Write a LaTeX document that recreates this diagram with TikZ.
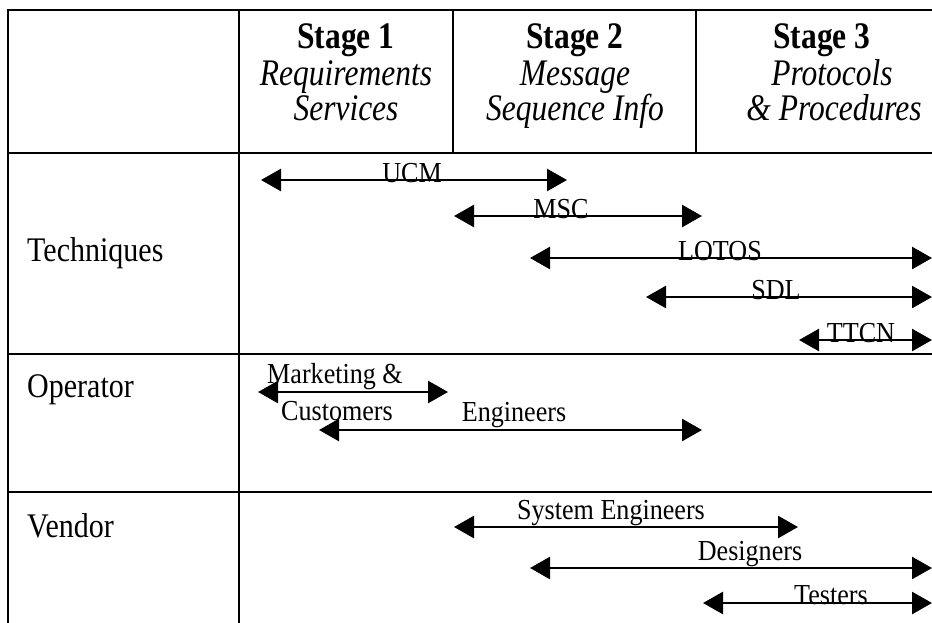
\documentclass[tikz,border=0pt]{standalone}
\usepackage{fontspec}
\setmainfont{Liberation Serif}[FakeStretch=0.9]
\newfontfamily\headfont{Liberation Serif}[FakeStretch=0.84]
\newfontfamily\rowfont{Liberation Serif}[FakeStretch=0.87]
\usetikzlibrary{arrows.meta}
\begin{document}
\begin{tikzpicture}[x=1pt,y=-1pt,
  rule/.style={line width=1.8pt, line cap=rect},
  span/.style={line width=2.6pt,
    {Triangle[length=20pt,width=22pt]}-{Triangle[length=20pt,width=22pt]}},
  stagehead/.style={font=\headfont\fontsize{37.5}{38}\selectfont\bfseries, anchor=base, inner sep=0pt},
  stagesub/.style={font=\headfont\fontsize{37.5}{38}\selectfont\itshape, anchor=base, inner sep=0pt},
  rowlabel/.style={font=\rowfont\fontsize{34.5}{36}\selectfont, anchor=base west, inner sep=0pt},
  spanlabel/.style={font=\fontsize{29}{30}\selectfont, anchor=base, inner sep=0pt}]
\useasboundingbox (0,0) rectangle (932,622);

% table rules
\draw[rule] (8,10) -- (932,10);
\draw[rule] (8,153) -- (932,153);
\draw[rule] (8,354) -- (932,354);
\draw[rule] (8,492) -- (932,492);
\draw[rule] (8,10) -- (8,622);
\draw[rule] (239,10) -- (239,622);
\draw[rule] (453,10) -- (453,153);
\draw[rule] (696,10) -- (696,153);

% column headings
\node[stagehead] (s1) at (346,48) {Stage 1};
\node[stagesub] (s1a) at (346,85) {Requirements};
\node[stagesub] (s1b) at (346,120) {Services};
\node[stagehead] (s2) at (575,48) {Stage 2};
\node[stagesub] (s2a) at (575,85) {Message};
\node[stagesub] (s2b) at (575,120) {Sequence Info};
\node[stagehead] (s3) at (822,48) {Stage 3};
\node[stagesub] (s3a) at (832,85) {Protocols};
\node[stagesub] (s3b) at (834,120) {\& Procedures};

% row headings
\node[rowlabel] (tech) at (27,261) {Techniques};
\node[rowlabel] (oper) at (27,397) {Operator};
\node[rowlabel] (vend) at (27,537) {Vendor};

% techniques
\coordinate (ucmL) at (261,180); \coordinate (ucmR) at (567,180);
\draw[span] (ucmL) -- (ucmR);
\node[spanlabel] (ucm) at (412,182) {UCM};

\coordinate (mscL) at (454,216); \coordinate (mscR) at (702,216);
\draw[span] (mscL) -- (mscR);
\node[spanlabel] (msc) at (561,218) {MSC};

\coordinate (lotL) at (530,258); \coordinate (lotR) at (932,258);
\draw[span] (lotL) -- (lotR);
\node[spanlabel] (lot) at (720,260) {LOTOS};

\coordinate (sdlL) at (646,297); \coordinate (sdlR) at (932,297);
\draw[span] (sdlL) -- (sdlR);
\node[spanlabel] (sdl) at (776,299) {SDL};

\coordinate (ttcL) at (799,340); \coordinate (ttcR) at (932,340);
\draw[span] (ttcL) -- (ttcR);
\node[spanlabel] (ttc) at (861,342) {TTCN};

% operator
\coordinate (mktL) at (258,392); \coordinate (mktR) at (448,392);
\draw[span] (mktL) -- (mktR);
\node[spanlabel] (mkt) at (335,383) {Marketing \&};
\node[spanlabel] (cus) at (337,420) {Customers};

\coordinate (engL) at (319,430); \coordinate (engR) at (702,430);
\draw[span] (engL) -- (engR);
\node[spanlabel] (eng) at (514,421) {Engineers};

% vendor
\coordinate (sysL) at (454,527); \coordinate (sysR) at (798,527);
\draw[span] (sysL) -- (sysR);
\node[spanlabel] (sys) at (611,519) {System Engineers};

\coordinate (desL) at (530,568); \coordinate (desR) at (932,568);
\draw[span] (desL) -- (desR);
\node[spanlabel] (des) at (750,560) {Designers};

\coordinate (tstL) at (703,603); \coordinate (tstR) at (932,603);
\draw[span] (tstL) -- (tstR);
\node[spanlabel] (tst) at (831,604) {Testers};
\end{tikzpicture}
\end{document}
